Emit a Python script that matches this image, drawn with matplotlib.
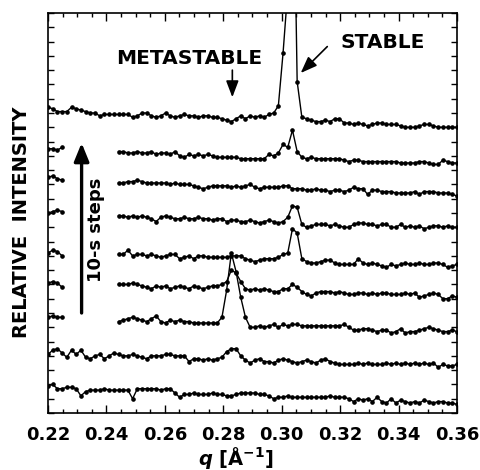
import numpy as np
import matplotlib.pyplot as plt
from matplotlib.ticker import MultipleLocator, FormatStrFormatter

plt.rcParams['font.family'] = ['DejaVu Sans']
plt.rcParams['mathtext.fontset'] = 'custom'
plt.rcParams['mathtext.rm'] = 'DejaVu Sans:bold'
plt.rcParams['mathtext.it'] = 'DejaVu Sans:italic:bold'
plt.rcParams['mathtext.bf'] = 'DejaVu Sans:bold'

# scattering vector grid, one point per channel
q = np.linspace(0.22, 0.36, 88)
gap = [np.nan] * 11

# stacked scans, bottom (earliest) to top (latest), offset intensities
scan_9 = [19, 20, 17, 17, 18, 18, 17, 12, 15, 16, 16, 16, 17, 16,
          16, 16, 16, 16, 10, 17, 17, 17, 17, 17, 16, 17, 17, 14, 11, 13, 13, 14, 13,
          13, 13, 14, 13, 13, 12, 12, 13, 14, 14,
          14, 14, 13, 13, 12, 10,
          11, 11, 12, 11, 11, 11, 11, 11, 11, 11, 11, 12, 11, 11,
          11, 10, 8, 10, 9, 10, 8, 11, 8, 7, 10, 7, 9, 8, 7, 8, 7, 9, 8, 7, 8, 8, 7, 7, 6]
scan_8 = [41, 44, 45, 42, 39, 44, 41, 44,
          39, 38, 40, 41, 38, 40, 42, 41, 40, 40, 41, 40, 39, 38, 40, 40, 40, 41, 41, 40,
          40, 40, 36, 38, 38, 37, 38, 37, 38, 39, 43, 45, 45, 40, 37,
          35, 37, 38, 36, 36, 35, 37, 38, 37, 36, 35, 36, 37, 36, 35, 37, 38, 36, 35, 34,
          34, 34, 34, 35, 34, 35, 34, 34, 34, 35, 34, 35, 34, 35, 34, 35, 34, 35, 34, 35,
          32, 34, 33, 33, 34]
scan_7 = [67, 68, 67, 67] + gap + [
          64, 65, 66, 67, 66, 65, 64, 66, 68, 64, 63, 65, 64, 65, 64, 64, 63, 63, 63, 63,
          63, 63, 67, 86, 112, 99, 81, 67,
          60, 60, 61, 60, 61, 62, 60, 62, 61, 62, 62, 61, 61, 61, 61, 61, 61, 61, 61, 61,
          62, 60, 58, 58, 59, 59, 58, 57, 58, 58, 56, 57, 59, 56, 57, 57, 58, 59, 60, 59,
          58, 57, 57, 58, 57]
scan_6 = [91, 92, 91, 88] + gap + [
          90, 90, 90, 91, 90, 89, 88, 87, 89, 88, 89, 87, 88, 89, 88, 87, 89, 88, 87, 88,
          89, 89, 90, 92, 100, 98, 92, 87,
          86, 87, 86, 87, 86, 85, 85, 87, 87, 90, 88, 85, 83, 82, 84, 85, 85, 85, 84, 85,
          84, 83, 83, 84, 84, 83, 84, 83, 84, 84, 83, 83, 83, 84, 83, 84, 81, 82, 83, 84,
          83, 80, 80, 82, 81]
scan_5 = [112, 114, 113, 110] + gap + [
          111, 111, 114, 110, 111, 111, 110, 111, 110, 109, 110, 111, 111, 108, 109, 110,
          108, 110, 110, 109, 109, 109, 109, 109, 110, 110, 110, 108,
          107, 106, 107, 108, 108, 108, 109, 111, 112, 129, 126, 108, 106, 105, 105, 106,
          107, 107, 105, 104, 104, 104, 104, 108, 105, 104, 105, 104, 103, 102, 104, 103,
          104, 105, 104, 104, 105, 104, 104, 105, 105, 104, 102, 103, 104]
scan_4 = [140, 141, 142, 141] + gap + [
          138, 138, 137, 138, 137, 138, 137, 136, 134, 137, 138, 137, 136, 136, 137, 136,
          136, 137, 136, 136, 135, 136, 136, 134, 135, 135, 134, 134,
          135, 134, 133, 134, 135, 134, 133, 134, 137, 145, 144, 132, 130, 131, 132, 132,
          132, 131, 132, 131, 130, 130, 132, 133, 133, 132, 132, 131, 132, 132, 130, 130,
          132, 130, 131, 130, 131, 129, 130, 131, 131, 130, 131, 130, 130]
scan_3 = [165, 166, 164, 163] + gap + [
          161, 161, 162, 162, 163, 162, 161, 161, 161, 161, 161, 160, 161, 160, 160, 160,
          159, 158, 157, 158, 159, 159, 159, 159, 158, 159, 158, 159,
          160, 158, 157, 158, 158, 158, 158, 159, 159, 157, 157, 157, 156, 156, 157, 156,
          156, 155, 156, 156, 155, 156, 158, 157, 157, 153, 156, 156, 155, 155, 155, 154,
          154, 154, 154, 155, 153, 155, 155, 155, 154, 154, 154, 153, 152]
scan_2 = [185, 185, 184, 186] + gap + [
          183, 183, 182, 182, 183, 182, 182, 183, 181, 182, 182, 181, 183, 180, 179, 181,
          180, 181, 180, 181, 180, 179, 179, 179, 179, 179, 178, 178,
          178, 178, 178, 178, 181, 180, 182, 188, 186, 198, 183, 179, 178, 179, 178, 178,
          178, 178, 178, 178, 177, 176, 177, 177, 176, 176, 176, 176, 176, 176, 176, 176,
          175, 175, 175, 175, 176, 176, 175, 174, 174, 177, 176, 175, 175]
scan_1 = [214, 213, 211, 211, 211, 214, 213, 212, 211, 210,
          210, 208, 209, 209, 209, 209, 209, 209, 207, 208,
          210, 210, 208, 207, 208, 210, 208, 207, 208, 209,
          208, 208, 207, 208, 208, 207, 207, 206, 205, 204,
          206, 208, 206, 208, 207, 208, 207, 209, 210, 215,
          252, 296, 435, 232, 207, 206, 205, 204, 204, 205,
          204, 206, 206, 203, 203, 202, 203, 202, 201, 202,
          203, 203, 202, 202, 202, 201, 200, 200, 200, 201,
          202, 202, 201, 200, 200, 200, 200, 200]

scans = [scan_1, scan_2, scan_3, scan_4, scan_5, scan_6, scan_7, scan_8, scan_9]

fig = plt.figure(figsize=(4.8, 4.7), dpi=100)
ax = fig.add_axes((48 / 480, 57 / 470, 409 / 480, 400 / 470))

for scan in scans:
    ax.plot(q, scan, color='black', lw=1.0, marker='o', ms=2.3, mec='black', mfc='black')

ax.set_xlim(0.22, 0.36)
ax.set_ylim(0, 280)
ax.xaxis.set_major_locator(MultipleLocator(0.02))
ax.xaxis.set_minor_locator(MultipleLocator(0.005))
ax.xaxis.set_major_formatter(FormatStrFormatter('%.2f'))
ax.yaxis.set_major_locator(MultipleLocator(10))
ax.tick_params(axis='x', which='both', direction='in', top=True, width=1.0,
               labelsize=13, pad=9)
ax.tick_params(axis='x', which='major', length=5.5)
ax.tick_params(axis='x', which='minor', length=3)
ax.tick_params(axis='y', which='both', direction='in', right=True, width=1.0,
               length=4, labelleft=False)
for label in ax.get_xticklabels():
    label.set_fontweight('bold')
for spine in ax.spines.values():
    spine.set_linewidth(1.2)

# annotations
ax.text(0.2683, 248, 'METASTABLE', fontsize=14.5, fontweight='bold', ha='center', va='center')
ax.annotate('', xy=(0.2831, 221), xytext=(0.2831, 240),
            arrowprops=dict(arrowstyle='-|>,head_length=1.0,head_width=0.38',
                            lw=1.2, color='black', mutation_scale=10, shrinkA=0, shrinkB=0))
ax.text(0.3347, 259, 'STABLE', fontsize=14.5, fontweight='bold', ha='center', va='center')
ax.annotate('', xy=(0.3065, 238), xytext=(0.3156, 256.5),
            arrowprops=dict(arrowstyle='-|>,head_length=1.0,head_width=0.38',
                            lw=1.2, color='black', mutation_scale=10, shrinkA=0, shrinkB=0))
ax.annotate('', xy=(0.2315, 189), xytext=(0.2315, 70),
            arrowprops=dict(arrowstyle='-|>,head_length=1.1,head_width=0.45',
                            lw=2.4, color='black', mutation_scale=10, shrinkA=0, shrinkB=0))
ax.text(0.2366, 128, '10-s steps', fontsize=13, fontweight='bold', rotation=90,
        ha='center', va='center')

fig.text(21.5 / 480, 1 - 222 / 470, 'RELATIVE  INTENSITY', fontsize=14, fontweight='bold',
         rotation=90, ha='center', va='center')
fig.text(236 / 480, 1 - 458 / 470, r'$q$ [Å$^{-1}$]', fontsize=14, fontweight='bold',
         ha='center', va='center')

fig.savefig('out.png', dpi=100)
